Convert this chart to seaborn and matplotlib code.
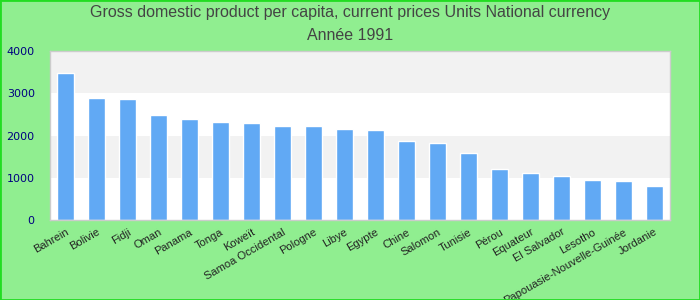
import matplotlib
matplotlib.use("Agg")
import matplotlib.pyplot as plt
import seaborn as sns
import pandas as pd
from matplotlib.patches import Rectangle

countries = ["Bahrein", "Bolivie", "Fidji", "Oman", "Panama", "Tonga", "Koweït",
             "Samoa Occidental", "Pologne", "Libye", "Egypte", "Chine", "Salomon",
             "Tunisie", "Pérou", "Equateur", "El Salvador", "Lesotho",
             "Papouasie-Nouvelle-Guinée", "Jordanie"]
values = [3480, 2890, 2865, 2485, 2390, 2320, 2295, 2225, 2225, 2155, 2130,
          1870, 1820, 1590, 1210, 1115, 1040, 950, 925, 805]
yticks = [0, 1000, 2000, 3000, 4000]

df = pd.DataFrame({"country": countries, "value": values})

sns.set_style("white")
plt.rcParams['font.family'] = ['Liberation Sans', 'DejaVu Sans']

fig = plt.figure(figsize=(7, 3), dpi=100, facecolor="#90ee90")
fig.patches.append(Rectangle((0, 0), 1, 1, transform=fig.transFigure, fill=False,
                             edgecolor="#22dd22", linewidth=2))
ax = fig.add_axes([50/700, 80/300, 620/700, 169/300])
ax.set_facecolor("white")
for lo in (1000, 3000):
    ax.axhspan(lo, lo + 1000, color="#f2f2f2", zorder=0, lw=0)

sns.barplot(data=df, x="country", y="value", color="#61a9f4", width=0.55,
            saturation=1, ax=ax, zorder=2)
ax.set_ylim(0, 4000)
ax.set_xlim(-0.5, len(countries) - 0.5)
ax.set_yticks(yticks)
ax.set_yticklabels([str(t) for t in yticks], color="#000080", fontsize=8,
                   family="DejaVu Sans")
ax.set_xticks(range(len(countries)))
ax.set_xticklabels(countries, rotation=30, ha="right", rotation_mode="anchor",
                   fontsize=8, color="#222222")
ax.tick_params(axis="both", length=0, pad=5)
ax.tick_params(axis="y", pad=11)
ax.set_xlabel("")
ax.set_ylabel("")
for s in ax.spines.values():
    s.set_color("#cccccc")
    s.set_linewidth(1)

fig.text(0.5, 1 - 13/300, "Gross domestic product per capita, current prices Units National currency",
         ha="center", va="center", fontsize=11.5, color="#444444")
fig.text(0.5, 1 - 36/300, "Année 1991", ha="center", va="center", fontsize=11.5,
         color="#444444")

fig.savefig("out.png", dpi=100, facecolor=fig.get_facecolor())
